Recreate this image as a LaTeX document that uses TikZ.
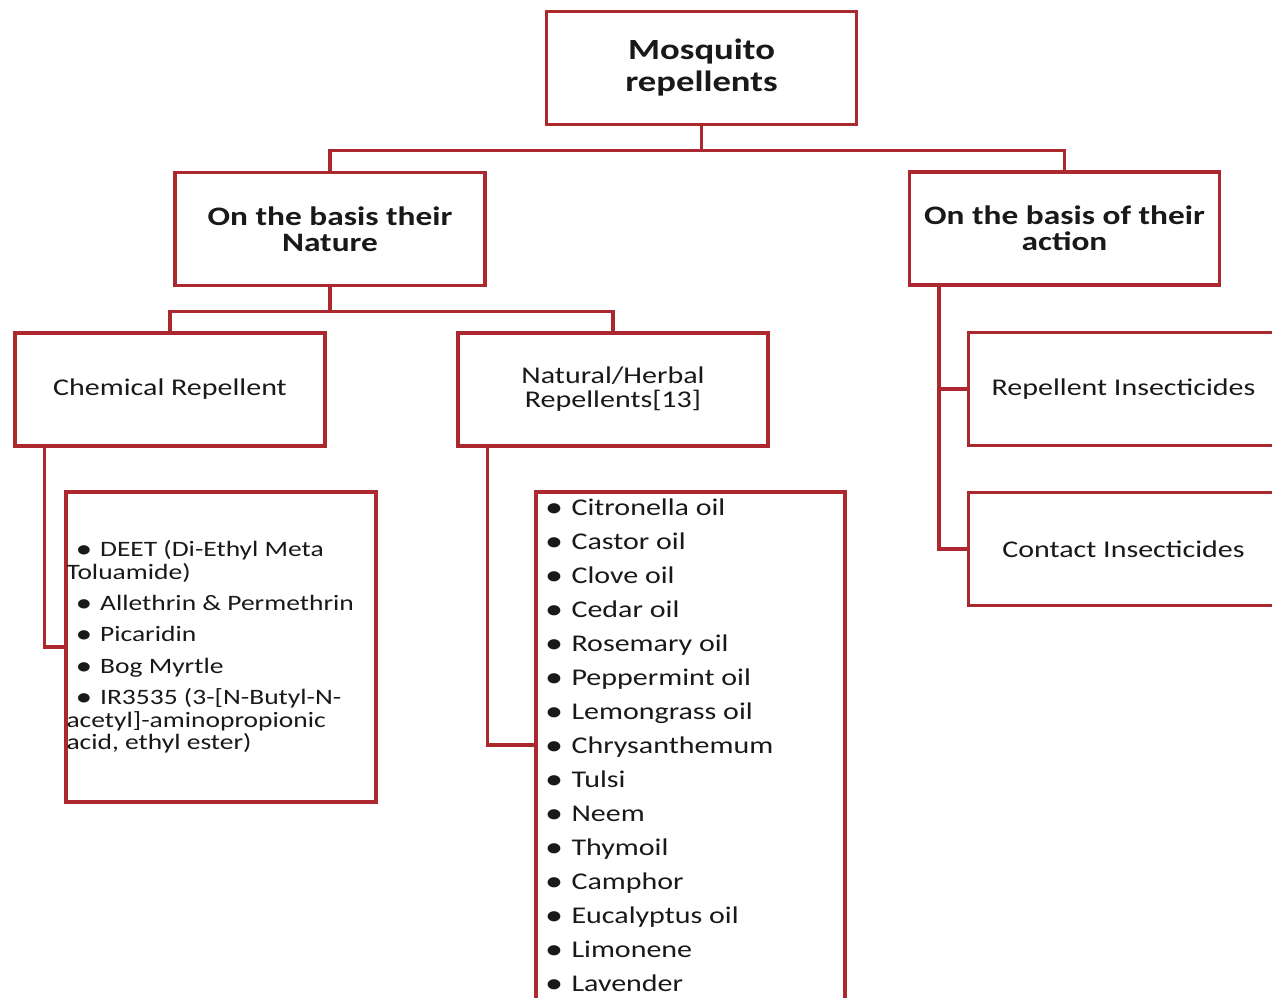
\documentclass[tikz,border=0pt]{standalone}
\usepackage{fontspec}
\setmainfont{Carlito}[FakeStretch=1.25]
\usetikzlibrary{positioning}
\definecolor{boxred}{RGB}{170,40,46}
\definecolor{inkgray}{RGB}{25,25,25}
\newcommand{\listdot}{{\bfseries\textbullet}\hspace{0.42em}}

\begin{document}
\begin{tikzpicture}[x=0.75pt,y=-0.75pt,
  box/.style={draw=boxred,line width=2.6pt,fill=white,minimum width=232.5pt,minimum height=84.75pt,align=center,text=inkgray,inner sep=0pt},
  head/.style={box,font=\bfseries\fontsize{20}{19.5}\selectfont},
  leaf/.style={box,font=\fontsize{18}{18}\selectfont},
  items/.style={align=left,text=inkgray,inner sep=0pt},
  link/.style={draw=boxred,line width=2.6pt}]
\useasboundingbox (0,0) rectangle (1272,997);

\node[head,font=\bfseries\fontsize{22}{24}\selectfont] (root) at (701.5,68) {Mosquito\\repellents};
\node[head] (nature) at (330,229) {On the basis their\\Nature};
\node[head] (action) at (1064.5,228.5) {On the basis of their\\action};
\node[leaf] (chem) at (170,389.5) {Chemical Repellent};
\node[leaf] (herbal) at (613,389.5) {Natural/Herbal\\Repellents[13]};
\node[leaf] (repins) at (1123.5,389) {Repellent Insecticides};
\node[leaf] (contins) at (1123.5,549) {Contact Insecticides};
\node[box,minimum height=232.5pt] (chemlist) at (221,647) {};
\node[box,minimum width=231.75pt,minimum height=384pt] (herblist) at (690.5,748) {};

% list texts
\node[items,anchor=west,font=\fontsize{16.5}{17}\selectfont] (chemitems) at ([xshift=1.5pt]chemlist.west)
  {\hspace*{8pt}\listdot DEET (Di-Ethyl Meta\\Toluamide)\\[6.4pt]
   \hspace*{8pt}\listdot Allethrin \& Permethrin\\[6.4pt]
   \hspace*{8pt}\listdot Picaridin\\[6.4pt]
   \hspace*{8pt}\listdot Bog Myrtle\\[6.4pt]
   \hspace*{8pt}\listdot IR3535 (3-[N-Butyl-N-\\acetyl]-aminopropionic\\acid, ethyl ester)};
\node[items,anchor=north west,font=\fontsize{18}{25.5}\selectfont] (herbitems) at ([xshift=9pt,yshift=-6.5pt]herblist.north west)
  {\listdot Citronella oil\\ \listdot Castor oil\\ \listdot Clove oil\\ \listdot Cedar oil\\
   \listdot Rosemary oil\\ \listdot Peppermint oil\\ \listdot Lemongrass oil\\
   \listdot Chrysanthemum\\ \listdot Tulsi\\ \listdot Neem\\ \listdot Thymoil\\
   \listdot Camphor\\ \listdot Eucalyptus oil\\ \listdot Limonene\\ \listdot Lavender};

% connectors
\coordinate (rootbus) at ([yshift=-18pt]root.south);
\coordinate (naturebus) at ([yshift=-18pt]nature.south);
\coordinate (actionrail) at ([xshift=23.25pt]action.south west);
\draw[link] (root.south) -- (rootbus);
\draw[link] (nature.north) |- (rootbus) -| (action.north);
\draw[link] (nature.south) -- (naturebus);
\draw[link] (chem.north) |- (naturebus) -| (herbal.north);
\draw[link] ([xshift=23.25pt]chem.south west) |- (chemlist.west);
\draw[link] ([xshift=23.25pt]herbal.south west) |- ([yshift=2.25pt]herblist.west);
\draw[link] (actionrail) |- (repins.west);
\draw[link] (actionrail) |- (contins.west);
\end{tikzpicture}
\end{document}
